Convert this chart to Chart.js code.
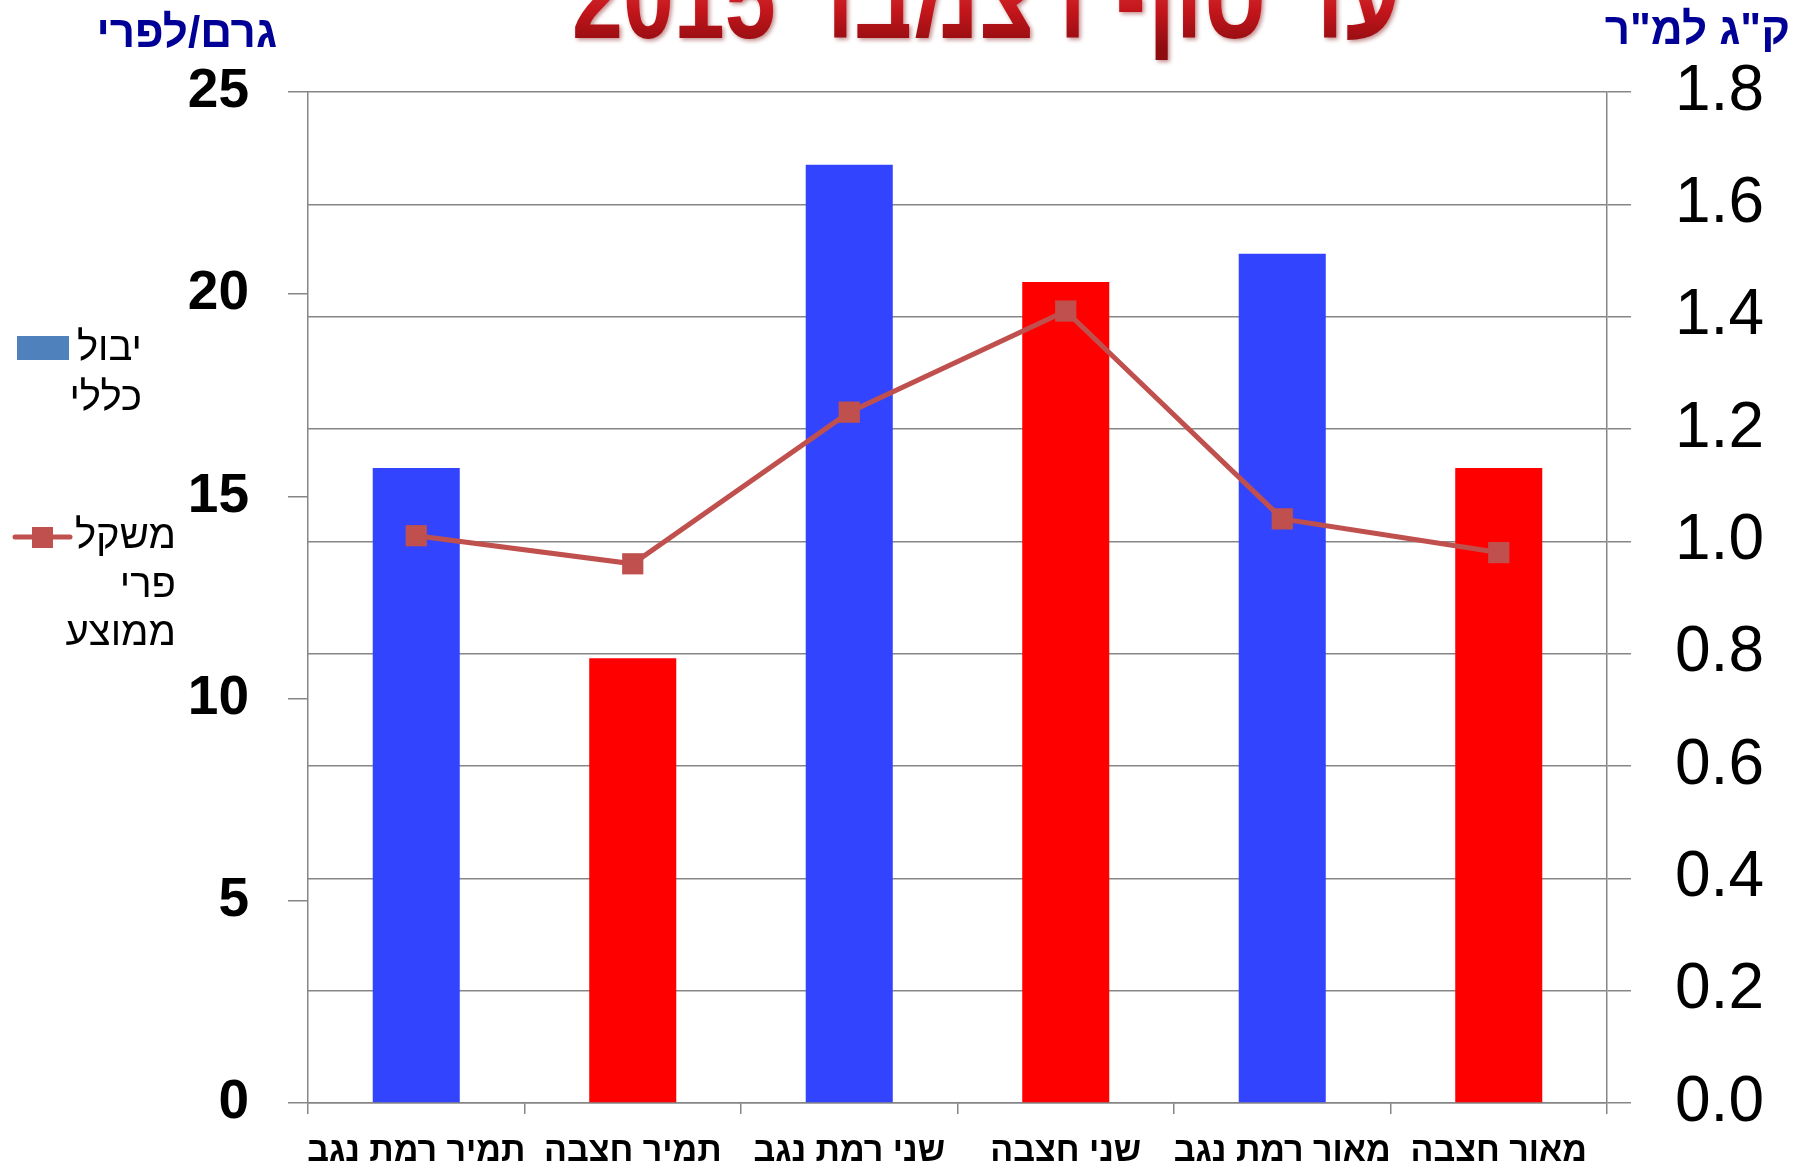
<!DOCTYPE html>
<html><head><meta charset="utf-8">
<script src="https://cdn.jsdelivr.net/npm/chart.js@4.4.1/dist/chart.umd.min.js"></script>
<style>html,body{margin:0;padding:0;background:#fff;overflow:hidden}canvas{display:block}</style>
</head><body>
<canvas id="c" width="1794" height="1167"></canvas>
<script>
// ---- data ----
const categories = ['תמיר רמת נגב', 'תמיר חצבה', 'שני רמת נגב', 'שני חצבה', 'מאור רמת נגב', 'מאור חצבה'];
const yieldValues = [15.7, 11.0, 23.2, 20.3, 21.0, 15.7];
const fruitWeightValues = [1.01, 0.96, 1.23, 1.41, 1.04, 0.98];
const leftTicks = [0, 5, 10, 15, 20, 25];
const rightTicks = [0, 0.2, 0.4, 0.6, 0.8, 1.0, 1.2, 1.4, 1.6, 1.8];
const rightTickLabels = ['0.0', '0.2', '0.4', '0.6', '0.8', '1.0', '1.2', '1.4', '1.6', '1.8'];
const seriesNames = ['יבול כללי', 'משקל פרי ממוצע'];
const titleText = 'עד סוף דצמבר 2015';
const leftAxisTitle = 'גרם/לפרי';
const rightAxisTitle = 'ק"ג למ"ר';

// ---- styles ----
const BLUE = '#3344FF', RED = '#FF0000', LINE = '#C0504D', LEGEND_BLUE = '#4F81BD';
const GRID = '#868686';
const barColors = categories.map((_, i) => i % 2 === 0 ? BLUE : RED);

const overlay = {
  id: 'overlay',
  afterDraw(chart) {
    const ctx = chart.ctx;
    // title (cut off at top as in original)
    ctx.save();
    ctx.direction = 'rtl';
    ctx.font = 'bold 118px "Liberation Sans Narrow", "Liberation Sans", sans-serif';
    ctx.textAlign = 'center';
    ctx.textBaseline = 'alphabetic';
    const w = ctx.measureText(titleText).width;
    ctx.translate(987, 38);
    ctx.scale(830 / w, 1);
    const g = ctx.createLinearGradient(0, -85, 0, 10);
    g.addColorStop(0, '#E8484A');
    g.addColorStop(0.6, '#C4161C');
    g.addColorStop(1, '#8E0C10');
    ctx.shadowColor = 'rgba(120,0,0,0.45)';
    ctx.shadowBlur = 4;
    ctx.shadowOffsetX = 2;
    ctx.shadowOffsetY = 2;
    ctx.fillStyle = g;
    ctx.fillText(titleText, 0, 0);
    ctx.restore();

    // axis titles
    ctx.save();
    ctx.direction = 'rtl';
    ctx.font = 'bold 44px "Liberation Sans", sans-serif';
    ctx.fillStyle = '#000096';
    ctx.textAlign = 'right';
    ctx.textBaseline = 'alphabetic';
    ctx.fillText(leftAxisTitle, 277, 47);
    ctx.fillText(rightAxisTitle, 1790, 44);
    ctx.restore();

    // legend
    ctx.save();
    ctx.direction = 'rtl';
    ctx.font = '40px "Liberation Sans", sans-serif';
    ctx.textAlign = 'right';
    ctx.textBaseline = 'alphabetic';
    ctx.fillStyle = LEGEND_BLUE;
    ctx.fillRect(17, 336, 52, 24);
    ctx.fillStyle = '#000';
    seriesNames[0].split(' ').forEach((t, i) => ctx.fillText(t, 142, 360 + i * 50));
    const lc = chart.data.datasets[0].borderColor;
    ctx.strokeStyle = lc;
    ctx.lineWidth = 5;
    ctx.lineCap = 'round';
    ctx.beginPath(); ctx.moveTo(15, 537); ctx.lineTo(70, 537); ctx.stroke();
    ctx.fillStyle = lc;
    ctx.fillRect(32, 527, 21, 21);
    ctx.fillStyle = '#000';
    seriesNames[1].split(' ').forEach((t, i) => ctx.fillText(t, 176, 548 + i * 48.5));
    ctx.restore();
  }
};

new Chart(document.getElementById('c'), {
  type: 'bar',
  data: {
    labels: categories,
    datasets: [
      {
        type: 'line',
        label: seriesNames[1],
        data: fruitWeightValues,
        yAxisID: 'y1',
        borderColor: LINE,
        backgroundColor: LINE,
        borderWidth: 5,
        pointStyle: 'rect',
        pointRadius: 15,
        pointBackgroundColor: LINE,
        pointBorderColor: LINE,
        pointBorderWidth: 0,
        tension: 0,
        order: 0
      },
      {
        type: 'bar',
        label: seriesNames[0],
        data: yieldValues,
        yAxisID: 'y',
        backgroundColor: barColors,
        barPercentage: 0.402,
        categoryPercentage: 1,
        order: 1
      }
    ]
  },
  options: {
    responsive: false,
    animation: false,
    devicePixelRatio: 1,
    layout: { padding: { top: 92, left: 0, right: 0, bottom: 0 } },
    plugins: { legend: { display: false }, title: { display: false }, tooltip: { enabled: false } },
    scales: {
      x: {
        afterFit: s => { s.height = 64; s.paddingLeft = 0; s.paddingRight = 0; },
        grid: { drawOnChartArea: false, drawTicks: true, tickLength: 11, color: GRID, lineWidth: 1.5, offset: true },
        border: { color: GRID, width: 1.5 },
        ticks: { color: '#000', font: { family: '"Liberation Sans", sans-serif', size: 34, weight: 'bold' }, padding: 17, maxRotation: 0, autoSkip: false }
      },
      y: {
        position: 'left',
        min: 0, max: 25,
        afterFit: s => { s.width = 308; s.paddingTop = 0; s.paddingBottom = 0; },
        afterBuildTicks: s => { s.ticks = leftTicks.map(v => ({ value: v })); },
        grid: { drawOnChartArea: false, drawTicks: true, tickLength: 20, color: GRID, lineWidth: 1.5 },
        border: { color: GRID, width: 1.5 },
        ticks: { color: '#000', font: { family: '"Liberation Sans", sans-serif', size: 55, weight: 'bold' }, padding: 39 }
      },
      y1: {
        position: 'right',
        min: 0, max: 1.8,
        afterFit: s => { s.width = 187; s.paddingTop = 0; s.paddingBottom = 0; },
        afterBuildTicks: s => { s.ticks = rightTicks.map(v => ({ value: v })); },
        grid: { drawOnChartArea: true, drawTicks: true, tickLength: 24, color: GRID, lineWidth: 1.5 },
        border: { color: GRID, width: 1.5 },
        ticks: { color: '#000', font: { family: '"Liberation Sans", sans-serif', size: 64 }, padding: 44,
                 callback: (v, i) => rightTickLabels[i] }
      }
    }
  },
  plugins: [overlay]
});
</script>
</body></html>
